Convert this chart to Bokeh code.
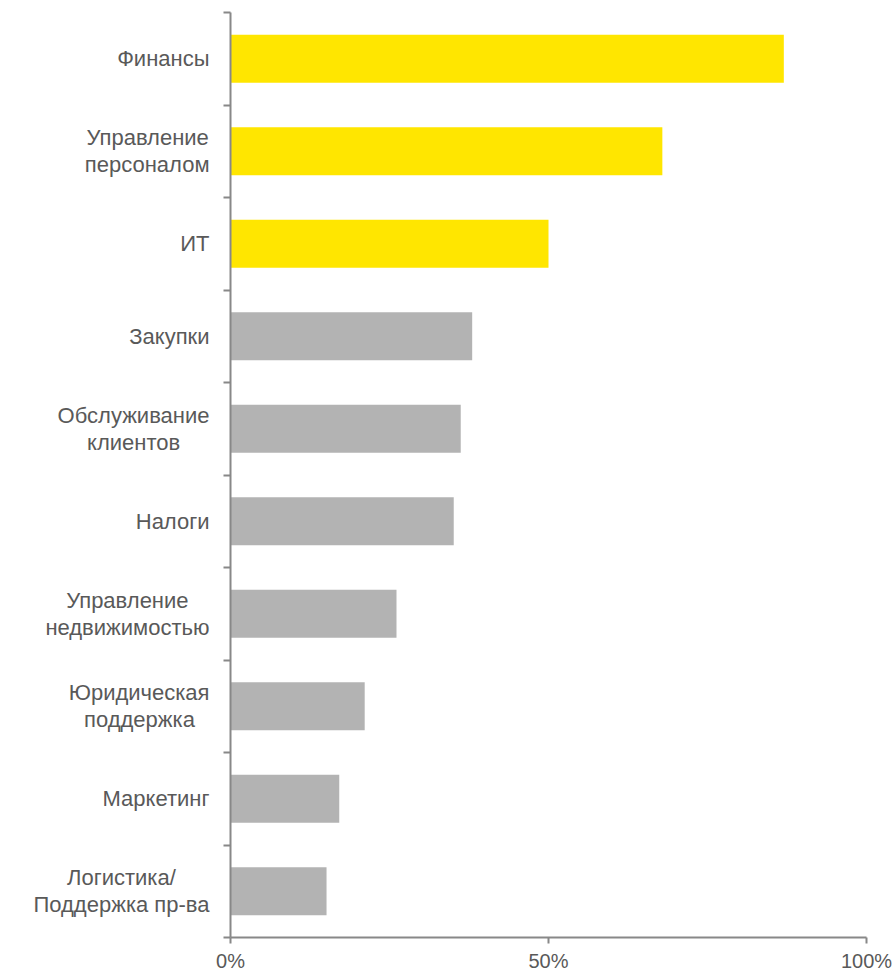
from bokeh.plotting import figure
from bokeh.layouts import row
from bokeh.models import ColumnDataSource, FixedTicker, NumeralTickFormatter, Range1d
from bokeh.core.properties import value
from bokeh.embed import file_html
from bokeh.resources import INLINE

# ---- data ----
categories = ["Финансы", "Управление\nперсоналом", "ИТ", "Закупки",
              "Обслуживание\nклиентов", "Налоги", "Управление\nнедвижимостью",
              "Юридическая\nподдержка", "Маркетинг", "Логистика/\nПоддержка пр-ва"]
shares = [0.87, 0.679, 0.50, 0.38, 0.362, 0.351, 0.261, 0.211, 0.171, 0.151]
highlighted = [True, True, True, False, False, False, False, False, False, False]
x_ticks = [0, 0.5, 1.0]

# ---- style ----
YELLOW = "#FFE600"
GREY = "#B3B3B3"
TEXT = "#595959"
AXIS = "#888888"
FONT = "Liberation Sans"
FS = 22
FRAME_W, FRAME_H = 636, 925
LABEL_W = 214        # width of the label panel (px)
AXIS_BORDER = 16     # space left of the frame in the main figure
LABEL_GAP = 21       # px between label right edge and the axis
LINE_GAP = 27        # px between lines of a two-line label

# approximate Arial / Liberation Sans advance widths (em)
CW = {"Ф": .833, "и": .559, "н": .548, "а": .556, "с": .5, "ы": .719, "У": .635,
      "п": .542, "р": .556, "в": .531, "л": .573, "е": .556, "о": .556, "м": .677,
      "И": .722, "Т": .611, "З": .615, "к": .438, "у": .5, "О": .778, "б": .567,
      "ж": .667, "т": .458, "Н": .722, "г": .365, "д": .583, "з": .458, "Ю": 1.0,
      "ч": .521, "я": .542, "М": .833, "Л": .656, "П": .722, "ь": .521, "ю": .75,
      "/": .278, "-": .333, " ": .278}


def text_w(s):
    return sum(CW.get(ch, .556) for ch in s) * FS


n = len(categories)
centers = [i + 0.5 for i in range(n)]
bars = ColumnDataSource(dict(
    y=centers, right=shares,
    color=[YELLOW if h else GREY for h in highlighted]))

y_range = Range1d(n, 0)

p = figure(frame_width=FRAME_W, frame_height=FRAME_H,
           min_border_left=AXIS_BORDER, min_border_right=30, min_border_top=12, min_border_bottom=35,
           x_range=Range1d(0, 1), y_range=y_range,
           output_backend="svg", toolbar_location=None)

p.hbar(y="y", left=0, right="right", height=0.52, color="color", line_color=None, source=bars)

p.xgrid.visible = False
p.ygrid.visible = False
p.outline_line_color = None

xa = p.xaxis[0]
xa.ticker = FixedTicker(ticks=x_ticks)
xa.formatter = NumeralTickFormatter(format="0%")
xa.axis_line_color = AXIS
xa.axis_line_width = 2
xa.major_tick_line_color = AXIS
xa.major_tick_line_width = 2
xa.major_tick_in = 0
xa.major_tick_out = 6
xa.minor_tick_line_color = None
xa.major_label_text_font = FONT
xa.major_label_text_font_size = "20px"
xa.major_label_text_color = TEXT
xa.major_label_standoff = 6

ya = p.yaxis[0]
ya.ticker = FixedTicker(ticks=list(range(n + 1)))
ya.major_label_overrides = {i: "" for i in range(n + 1)}
ya.axis_line_color = AXIS
ya.axis_line_width = 2
ya.major_tick_line_color = AXIS
ya.major_tick_line_width = 2
ya.major_tick_in = 0
ya.major_tick_out = 7
ya.major_label_standoff = 0
ya.minor_tick_line_color = None

# ---- category label panel (shares the y range) ----
lp = figure(frame_width=LABEL_W, frame_height=FRAME_H,
            min_border_left=0, min_border_right=0, min_border_top=12, min_border_bottom=35,
            x_range=Range1d(0, LABEL_W), y_range=y_range,
            output_backend="svg", toolbar_location=None)
lp.axis.visible = False
lp.xgrid.visible = False
lp.ygrid.visible = False
lp.outline_line_color = None

py = n / FRAME_H
edge = LABEL_W + AXIS_BORDER - LABEL_GAP
r_x, r_y, r_t = [], [], []
c_x, c_y, c_t = [], [], []
for c, lab in zip(centers, categories):
    lines = lab.split("\n")
    widths = [text_w(l) for l in lines]
    W = max(widths)
    k = len(lines)
    for j, (l, w) in enumerate(zip(lines, widths)):
        yy = c + (j - (k - 1) / 2) * LINE_GAP * py
        if w == W:
            r_x.append(edge); r_y.append(yy); r_t.append(l)
        else:
            c_x.append(edge - W / 2); c_y.append(yy); c_t.append(l)

common = dict(text_font=value(FONT), text_font_size=f"{FS}px", text_color=TEXT,
              text_baseline="middle")
lp.text(x="x", y="y", text="text", text_align="right",
        source=ColumnDataSource(dict(x=r_x, y=r_y, text=r_t)), **common)
lp.text(x="x", y="y", text="text", text_align="center",
        source=ColumnDataSource(dict(x=c_x, y=c_y, text=c_t)), **common)

layout = row(lp, p, spacing=0)
open("out.html", "w").write(file_html(layout, INLINE))
